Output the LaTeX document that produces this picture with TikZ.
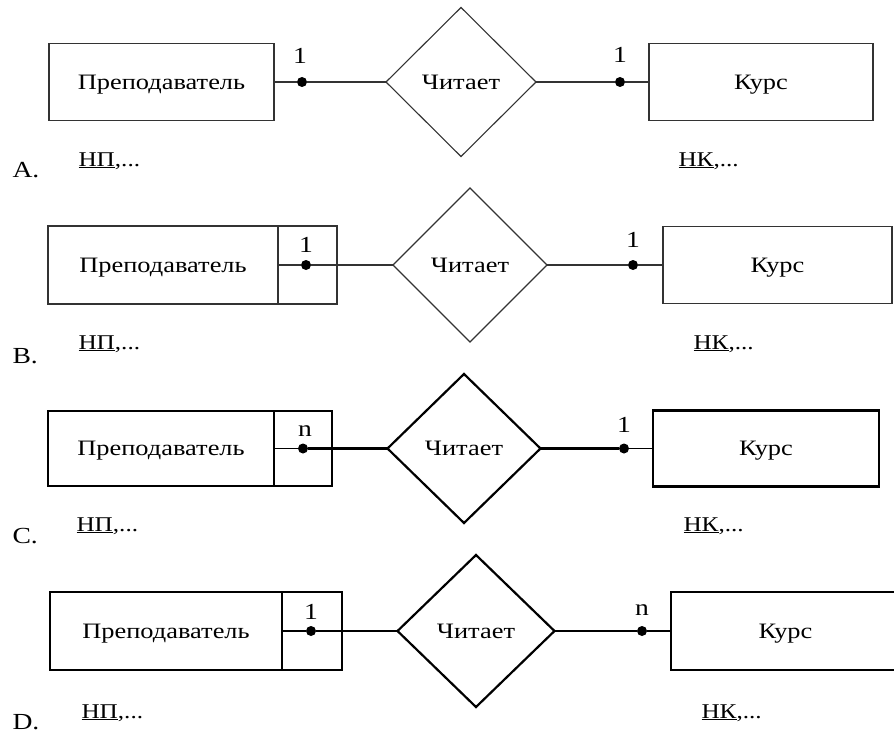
\documentclass[tikz,border=0pt]{standalone}
\usepackage{fontspec}
\setmainfont[FakeStretch=1.2]{Liberation Serif}
\usetikzlibrary{shapes.geometric}
\newcommand\fsz[1]{\fontsize{#1}{#1}\selectfont}
\definecolor{lineA}{HTML}{333333}
\tikzset{
  ent/.style={draw, rectangle, inner sep=0pt, outer sep=0pt, text depth=0pt, font=\fsz{22}},
  rel/.style={draw, diamond, inner sep=0pt, outer sep=0pt, text depth=0pt, font=\fsz{22}},
  dotn/.style={circle, fill=black, inner sep=0pt, minimum size=10pt},
  card/.style={anchor=base, font=\fsz{23}},
  attr/.style={anchor=base west, font=\fsz{21}},
  optl/.style={anchor=base west, font=\fsz{23}},
  styA/.style={line width=1.1pt, draw=lineA},
  thinC/.style={line width=1.2pt},
  thickC/.style={line width=2.2pt}
}
\begin{document}
\begin{tikzpicture}[x=1pt, y=-1pt]
\useasboundingbox (0,0) rectangle (894,733);
\begin{scope}
\clip (0,0) rectangle (894,733);
% ---------- A ----------
\node[ent, styA, minimum width=225pt, minimum height=77pt] (PA) at (161.5,82) {Преподаватель};
\node[rel, styA, minimum width=150pt, minimum height=149pt] (DA) at (461,82) {Читает};
\node[ent, styA, minimum width=224pt, minimum height=77pt] (KA) at (761,82) {Курс};
\node[dotn] (a1) at (302,82) {};
\node[dotn] (a2) at (620,82) {};
\draw[styA] (PA.east) -- (a1) -- (DA.west);
\draw[styA] (DA.east) -- (a2) -- (KA.west);
\node[card] (ca1) at (300,64) {1};
\node[card] (ca2) at (620,63) {1};
\node[attr] (npA) at (75,166) {\underline{НП},...};
\node[attr] (nkA) at (675,166) {\underline{НК},...};
\node[optl] (optA) at (9,177) {A.};
% ---------- B ----------
\node[ent, styA, minimum width=230pt, minimum height=78pt] (PB) at (163,265) {Преподаватель};
\node[ent, styA, minimum width=59pt, minimum height=78pt] (PBx) at (307.5,265) {};
\node[rel, styA, minimum width=154pt, minimum height=154pt] (DB) at (470,265) {Читает};
\node[ent, styA, minimum width=229pt, minimum height=77pt] (KB) at (777.5,265) {Курс};
\node[dotn] (b1) at (306,265) {};
\node[dotn] (b2) at (633,265) {};
\draw[styA] (PBx.west) -- (b1) -- (DB.west);
\draw[styA] (DB.east) -- (b2) -- (KB.west);
\node[card] (cb1) at (306,252) {1};
\node[card] (cb2) at (633,247) {1};
\node[attr] (npB) at (75,349) {\underline{НП},...};
\node[attr] (nkB) at (690,349) {\underline{НК},...};
\node[optl] (optB) at (9,363) {B.};
% ---------- C ----------
\node[ent, thickC, minimum width=226pt, minimum height=75pt] (PC) at (161,448.5) {Преподаватель};
\node[ent, thickC, minimum width=58pt, minimum height=75pt] (PCx) at (303,448.5) {};
\node[rel, thickC, minimum width=153pt, minimum height=149pt] (DC) at (464,448.5) {Читает};
\node[ent, thickC, minimum width=226pt, minimum height=76pt] (KC) at (766,448.5) {Курс};
\node[dotn] (c1) at (303,448.5) {};
\node[dotn] (c2) at (624,448.5) {};
\draw[thinC] (PCx.west) -- (c1);
\draw[thickC] (c1) -- (DC.west);
\draw[thickC] (DC.east) -- (c2);
\draw[thinC] (c2) -- (KC.west);
\node[card] (cc1) at (305,436) {n};
\node[card] (cc2) at (624,432) {1};
\node[attr] (npC) at (73,531) {\underline{НП},...};
\node[attr] (nkC) at (680,531) {\underline{НК},...};
\node[optl] (optC) at (9,543) {C.};
% ---------- D ----------
\node[ent, thickC, minimum width=232pt, minimum height=78pt] (PD) at (166,631) {Преподаватель};
\node[ent, thickC, minimum width=60pt, minimum height=78pt] (PDx) at (312,631) {};
\node[rel, thickC, minimum width=157pt, minimum height=152pt] (DD) at (476,631) {Читает};
\node[ent, thickC, minimum width=229pt, minimum height=78pt] (KD) at (785.5,631) {Курс};
\node[dotn] (d1) at (311,631) {};
\node[dotn] (d2) at (642,631) {};
\draw[thinC] (PDx.west) -- (d1);
\draw[thickC] (d1) -- (DD.west);
\draw[thickC] (DD.east) -- (d2);
\draw[thinC] (d2) -- (KD.west);
\node[card] (cd1) at (311,619) {1};
\node[card] (cd2) at (642,615) {n};
\node[attr] (npD) at (78,718) {\underline{НП},...};
\node[attr] (nkD) at (698,718) {\underline{НК},...};
\node[optl] (optD) at (9,729) {D.};
\end{scope}
\end{tikzpicture}
\end{document}
